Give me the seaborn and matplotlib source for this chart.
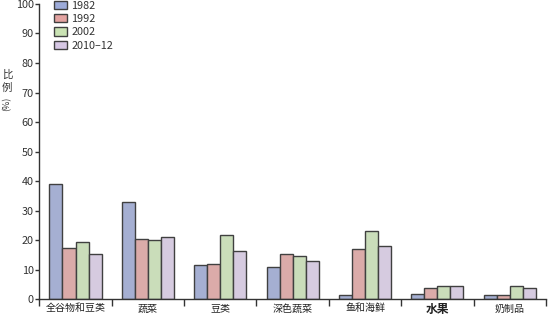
import numpy as np
import pandas as pd
import matplotlib
matplotlib.use("Agg")
import matplotlib.pyplot as plt
import seaborn as sns
from matplotlib.ticker import FixedLocator
from matplotlib.patches import Patch

# Food groups and the share (%) reported for each survey year
categories = ["全谷物和豆类", "蔬菜", "豆类", "深色蔬菜", "鱼和海鲜", "水果", "奶制品"]
years = ["1982", "1992", "2002", "2010–12"]
v1982 = [38.9, 33.0, 11.6, 10.9, 1.5, 1.9, 1.5]
v1992 = [17.4, 20.3, 11.8, 15.4, 16.9, 3.9, 1.4]
v2002 = [19.3, 20.1, 21.6, 14.8, 23.0, 4.6, 4.6]
v2010 = [15.2, 21.2, 16.2, 13.1, 17.9, 4.6, 3.8]
y_ticks = [0, 10, 20, 30, 40, 50, 60, 70, 80, 90, 100]

colors = ["#9dabd9", "#e3a3a1", "#cae3b4", "#d6c7e4"]

rows = []
for year, vals in zip(years, [v1982, v1992, v2002, v2010]):
    for cat, v in zip(categories, vals):
        rows.append({"食物": cat, "年份": year, "比例": v})
df = pd.DataFrame(rows)

sns.set_theme(style="white")
plt.rcParams["font.family"] = ["Noto Sans CJK SC", "DejaVu Sans"]

fig = plt.figure(figsize=(5.54, 3.26), dpi=100)
ax = fig.add_axes([0.071, 0.082, 0.9145, 0.906])

sns.barplot(data=df, x="食物", y="比例", hue="年份", order=categories,
            hue_order=years, palette=colors, width=0.72, gap=0,
            edgecolor="#404040", linewidth=1.0, ax=ax, legend=False)

ax.set_xlim(-0.5, len(categories) - 0.5)
ax.set_ylim(0, 100)
ax.set_yticks(y_ticks)
ax.set_xlabel("")
ax.set_ylabel("")

for s in ["top", "right"]:
    ax.spines[s].set_visible(False)
for s in ["left", "bottom"]:
    ax.spines[s].set_color("#333333")
    ax.spines[s].set_linewidth(1.0)

ax.tick_params(axis="y", which="major", direction="out", length=3, width=1,
               color="#333333", labelsize=7.8, labelcolor="#333333", pad=1,
               left=True)
ax.tick_params(axis="x", which="major", length=0, labelsize=7.2, pad=3,
               labelcolor="#222222")
ax.xaxis.set_minor_locator(FixedLocator(np.arange(-0.5, len(categories), 1.0)))
ax.tick_params(axis="x", which="minor", direction="out", length=5, width=1,
               color="#333333", bottom=True)
for lbl in ax.get_xticklabels():
    if lbl.get_text() == "水果":
        lbl.set_fontsize(8.5)
        lbl.set_fontweight("bold")

# Legend
handles = [Patch(facecolor=c, edgecolor="#404040", linewidth=1.0) for c in colors]
ax.legend(handles, years, loc="upper left", bbox_to_anchor=(0.02, 1.025),
          frameon=False, fontsize=7.8, handlelength=1.2, handleheight=0.8,
          handletextpad=0.4, labelspacing=0.3, borderaxespad=0,
          labelcolor="#333333")

# Vertical y-axis title
fig.text(0.013, 0.77, "比", fontsize=7.5, ha="center", va="center", color="#333333")
fig.text(0.013, 0.73, "例", fontsize=7.5, ha="center", va="center", color="#333333")
fig.text(0.013, 0.683, "(%)", fontsize=6.5, ha="center", va="center",
         rotation=90, color="#333333")

fig.savefig("out.png", dpi=100)
